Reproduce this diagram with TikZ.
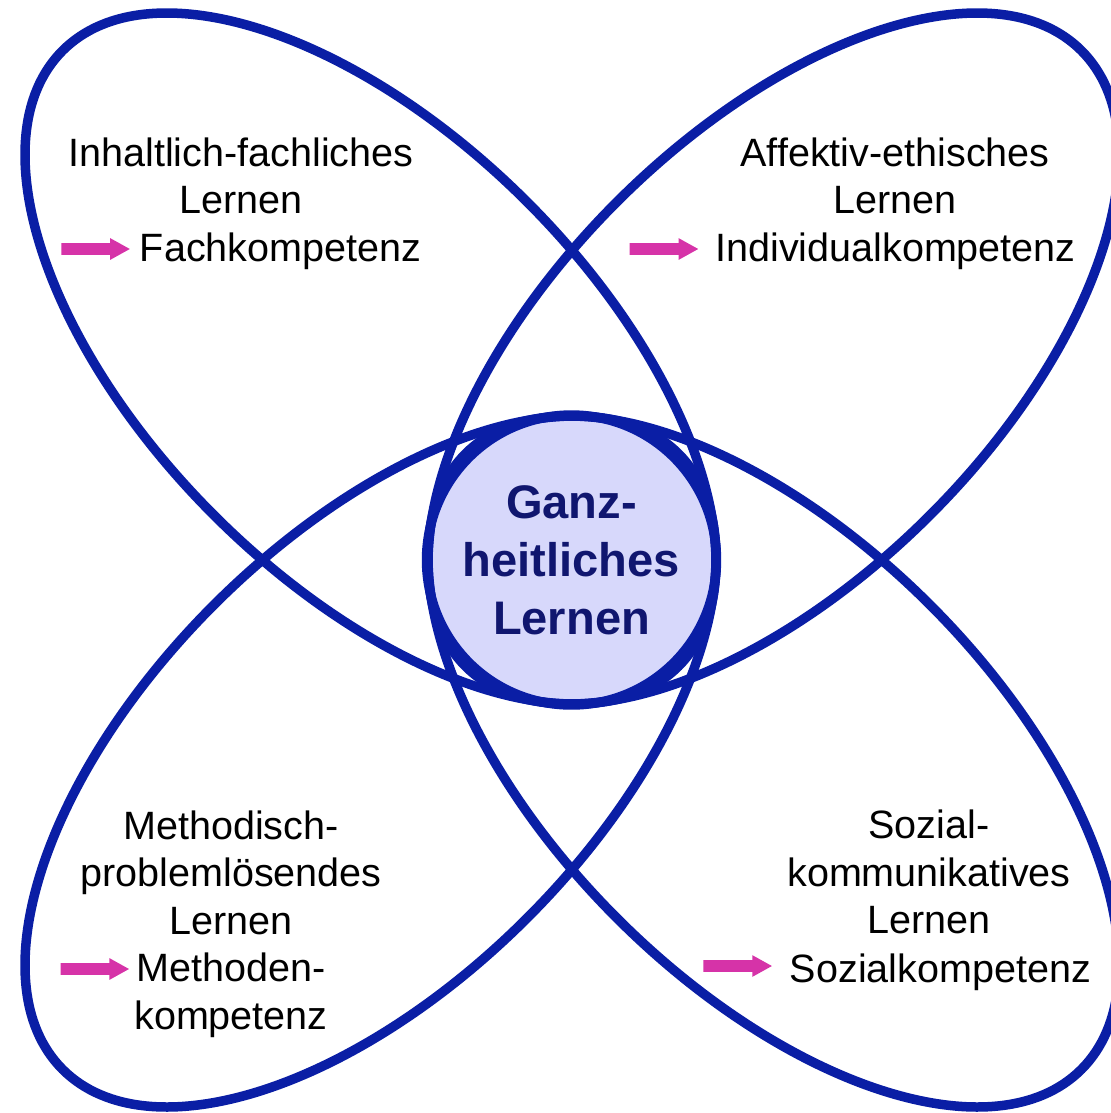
\documentclass[tikz,border=0pt]{standalone}
\usepackage{fontspec}
\setmainfont{Liberation Sans}
\usepackage{xcolor}
\usepackage{tikz}
\usetikzlibrary{shapes.geometric, shapes.arrows, positioning}
\definecolor{ringblau}{HTML}{0A1EA5}
\definecolor{kernfill}{HTML}{D7D8FB}
\definecolor{kerntext}{HTML}{10166F}
\definecolor{pfeilrosa}{HTML}{D633A8}
\tikzstyle{blatt} = [ellipse, minimum width=17.42cm, minimum height=8.86cm, draw=ringblau, line width=0.19cm]
\tikzstyle{kern} = [circle, minimum size=5.8cm, draw=ringblau, fill=kernfill, line width=0.19cm, text=kerntext, align=center, font=\fontsize{26.8pt}{33pt}\selectfont\bfseries]
\tikzstyle{lerntext} = [align=center, inner sep=0pt, font=\fontsize{22.5pt}{27pt}\selectfont]
\tikzstyle{pfeil} = [single arrow, single arrow head extend=0.1cm, single arrow tip angle=58, single arrow head indent=0pt, minimum height=1.37cm, minimum width=0.42cm, inner xsep=0pt, inner ysep=0.11cm, fill=pfeilrosa]

\begin{document}
\begin{tikzpicture}[x=0.02cm, y=-0.02cm]
   \useasboundingbox (0,0) rectangle (1111,1113);
   \clip (0,0) rectangle (1111,1113);
   \node (ganz) [kern] at (571.5,560) {Ganz-\\heitliches\\Lernen};
   \node (fach) [blatt, rotate=-45] at (370.5,358.5) {};
   \node (indiv) [blatt, rotate=45] at (773.5,358.5) {};
   \node (meth) [blatt, rotate=45] at (370.5,761.5) {};
   \node (sozial) [blatt, rotate=-45] at (773.5,761.5) {};
   % oben links
   \node (fachText) [lerntext] at (241,176) {Inhaltlich-fachliches\\Lernen};
   \node (fachKomp) [lerntext] at (280.5,251) {Fachkompetenz};
   \node (fachPfeil) [pfeil, left=0.18cm of fachKomp, yshift=0.04cm] {};
   % oben rechts
   \node (indivText) [lerntext] at (895,176) {Affektiv-ethisches\\Lernen};
   \node (indivKomp) [lerntext] at (895.5,251) {Individualkompetenz};
   \node (indivPfeil) [pfeil, left=0.32cm of indivKomp, yshift=0.04cm] {};
   % unten links
   \node (methText) [lerntext] at (231,924) {Methodisch-\\problemlösendes\\Lernen\\Methoden-\\kompetenz};
   \node (methPfeil) [pfeil] at (89.5,969) {};
   % unten rechts
   \node (sozialText) [lerntext] at (929,872) {Sozial-\\kommunikatives\\Lernen};
   \node (sozialKomp) [lerntext] at (940.5,972) {Sozialkompetenz};
   \node (sozialPfeil) [pfeil, left=0.34cm of sozialKomp, yshift=0.12cm] {};
\end{tikzpicture}
\end{document}
